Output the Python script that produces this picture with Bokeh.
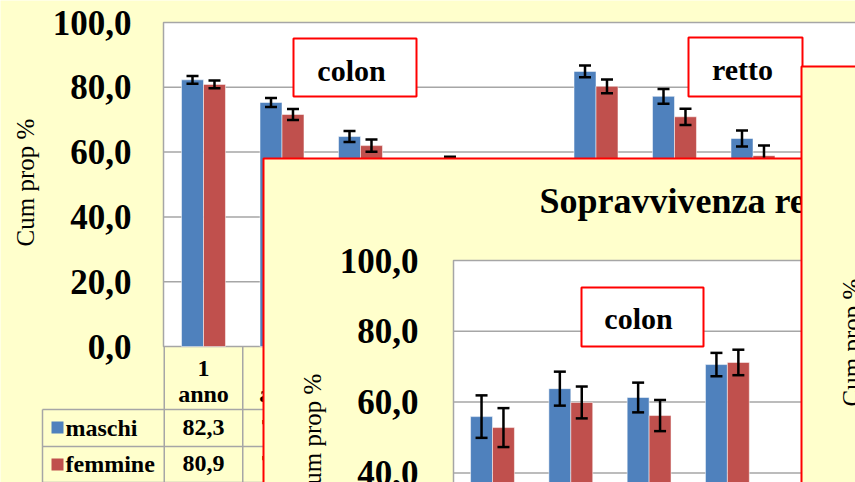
from math import pi
from bokeh.plotting import figure
from bokeh.models import Range1d
from bokeh.core.properties import value
from bokeh.embed import file_html
from bokeh.resources import INLINE

# ---------------- data ----------------
period_num = ["1", "2", "3", "5"]
period_word = ["anno", "anni", "anni", "anni"]
series_names = ["maschi", "femmine"]

# back slide: colon and retto (cumulative proportion %)
colon_maschi = [82.3, 75.3, 64.8, 55.5]
colon_femmine = [80.9, 71.6, 62.0, 56.7]
colon_maschi_err = [1.2, 1.4, 1.7, 1.9]
colon_femmine_err = [1.2, 1.7, 1.9, 1.9]
retto_maschi = [84.9, 77.2, 64.2, 56.5]
retto_femmine = [80.3, 70.9, 58.9, 52.4]
retto_maschi_err = [1.8, 2.3, 2.5, 2.7]
retto_femmine_err = [2.1, 2.5, 3.1, 3.0]

# front slide: Sopravvivenza relativa, colon
front_maschi = [55.9, 63.8, 61.3, 70.6]
front_femmine = [52.8, 59.9, 56.2, 71.2]
front_maschi_err = [6.0, 4.8, 4.2, 3.3]
front_femmine_err = [5.5, 4.5, 4.4, 3.6]

y_ticks = [0, 20, 40, 60, 80, 100]
front_title = "Sopravvivenza relativa"
y_label = "Cum prop %"

# ---------------- style ----------------
BLUE = "#4F81BD"
RED = "#C0504D"
YEL = "#FFFFCC"
GRID = "#A6A6A6"
RB = "#FF0000"
SERIF = value("Liberation Serif, Tinos, Times New Roman, DejaVu Serif, serif")

W, H = 855, 482
L, T = 0, 0
R, B = L + W, T + H

p = figure(width=W, height=H, x_range=Range1d(L, R), y_range=Range1d(B, T),
           output_backend="svg", toolbar_location=None,
           x_axis_location=None, y_axis_location=None, min_border=0,
           background_fill_color=YEL, border_fill_color=YEL,
           outline_line_color=None)
p.grid.visible = False

# back chart mapping: value 0 at px 346, 3.24 px per unit; category 0 at px 203, 78.5 px per step
BY0, BK = 346.0, 3.24
BX0, BDX = 203.0, 78.5
# front chart mapping: value 100 at px 260, 3.54 px per unit; category 0 at px 492, 78.3 px per step
FY100, FK = 260.0, 3.54
FX0, FDX = 492.0, 78.3
FRONT_LEFT, FRONT_TOP = 263, 158

p.extra_y_ranges = {
    "back": Range1d((BY0 - B) / BK, (BY0 - T) / BK),
    "front": Range1d(100 - (B - FY100) / FK, 100 - (T - FY100) / FK),
}
p.extra_x_ranges = {
    "back": Range1d((L - BX0) / BDX, (R - BX0) / BDX),
    "front": Range1d((L - FX0) / FDX, (R - FX0) / FDX),
}

def fmt(v):
    return f"{v:.1f}".replace(".", ",")

def txt(x, y, text, size, bold=True, align="center", angle=0, **kw):
    p.text(x=x, y=y, text=text, angle=angle, text_align=align,
           text_baseline="middle", text_font=SERIF,
           text_font_style="bold" if bold else "normal",
           text_font_size=size, **kw)

def bars(xs, vals, errs, color, xr, yr):
    p.vbar(x=xs, top=vals, bottom=0, width=0.28, fill_color=color,
           line_color="white", line_alpha=0.5, line_width=1,
           x_range_name=xr, y_range_name=yr)
    lo = [v - e for v, e in zip(vals, errs)]
    hi = [v + e for v, e in zip(vals, errs)]
    p.segment(x0=xs, x1=xs, y0=lo, y1=hi, line_color="black", line_width=2.5,
              x_range_name=xr, y_range_name=yr)
    p.scatter(x=xs + xs, y=lo + hi, marker="dash", size=12, line_width=2.5,
              line_color="black", x_range_name=xr, y_range_name=yr)

# ================= back slide =================
p.quad(left=163, right=R + 20, bottom=0, top=100, fill_color="white",
       line_color=GRID, line_width=1.5, y_range_name="back")
inner = [t for t in y_ticks if 0 < t < 100]
p.segment(x0=[163] * len(inner), x1=[R + 20] * len(inner), y0=inner, y1=inner,
          line_color=GRID, line_width=1.5, y_range_name="back")

colon_idx = list(range(len(colon_maschi)))
retto_idx = [i + len(colon_maschi) + 1 for i in range(len(retto_maschi))]
bars([i - 0.14 for i in colon_idx], colon_maschi, colon_maschi_err, BLUE, "back", "back")
bars([i + 0.14 for i in colon_idx], colon_femmine, colon_femmine_err, RED, "back", "back")
bars([i - 0.14 for i in retto_idx], retto_maschi, retto_maschi_err, BLUE, "back", "back")
bars([i + 0.14 for i in retto_idx], retto_femmine, retto_femmine_err, RED, "back", "back")

txt([131] * len(y_ticks), y_ticks, [fmt(t) for t in y_ticks], "35px",
    align="right", y_range_name="back")
txt([25], [182], [y_label], "25px", bold=False, angle=pi / 2)

# data table under back chart
n_cols = len(colon_maschi) + 1 + len(retto_maschi)
bounds = [i - 0.5 for i in range(n_cols + 1)]
p.segment(x0=bounds, x1=bounds, y0=[346] * len(bounds), y1=[B + 20] * len(bounds),
          line_color=GRID, line_width=1.5, x_range_name="back")
p.segment(x0=[42, 42, 42], x1=[R + 20] * 3, y0=[409, 446, 482], y1=[409, 446, 482],
          line_color=GRID, line_width=1.5)
p.segment(x0=[42], x1=[42], y0=[409], y1=[B + 20], line_color=GRID, line_width=1.5)

# only the table columns not hidden by the front slide
vis = [i for i in colon_idx if BX0 + BDX * (i - 0.5) < FRONT_LEFT]
txt(vis, [368] * len(vis), [period_num[i] for i in vis], "24px", x_range_name="back")
txt(vis, [393] * len(vis), [period_word[i] for i in vis], "24px", x_range_name="back")
txt(vis, [427] * len(vis), [fmt(colon_maschi[i]) for i in vis], "24px", x_range_name="back")
txt(vis, [463] * len(vis), [fmt(colon_femmine[i]) for i in vis], "24px", x_range_name="back")
p.quad(left=[51, 51], right=[63, 63], top=[421, 458], bottom=[433, 470],
       fill_color=[BLUE, RED], line_color=None)
txt([65, 65], [427, 463], series_names, "24px", align="left")

# labels
p.quad(left=[293, 688], right=[416, 802], top=[38, 37], bottom=[96, 96],
       fill_color="white", line_color=RB, line_width=2)
txt([351, 742], [70, 69], ["colon", "retto"], "30px")

# ================= front slide =================
p.quad(left=FRONT_LEFT, right=R + 20, top=FRONT_TOP, bottom=B + 20, fill_color=YEL,
       line_color=RB, line_width=2)
txt([539], [200], [front_title], "36px", align="left")
p.quad(left=453, right=R + 20, bottom=0, top=100, fill_color="white",
       line_color=GRID, line_width=1.5, y_range_name="front")
p.segment(x0=[453] * len(inner), x1=[R + 20] * len(inner), y0=inner, y1=inner,
          line_color=GRID, line_width=1.5, y_range_name="front")
front_idx = list(range(len(front_maschi)))
bars([i - 0.14 for i in front_idx], front_maschi, front_maschi_err, BLUE, "front", "front")
bars([i + 0.14 for i in front_idx], front_femmine, front_femmine_err, RED, "front", "front")
fticks = [t for t in y_ticks if FY100 + (100 - t) * FK < B]
txt([418] * len(fticks), fticks, [fmt(t) for t in fticks], "35px",
    align="right", y_range_name="front")
txt([312], [437], [y_label], "25px", bold=False, angle=pi / 2)
p.quad(left=581, right=703, top=287, bottom=346, fill_color="white",
       line_color=RB, line_width=2)
txt([638], [318], ["colon"], "30px")

# ================= right slide =================
p.quad(left=801, right=R + 20, top=66, bottom=B + 20, fill_color=YEL,
       line_color=RB, line_width=2)
txt([851], [342], [y_label], "25px", bold=False, angle=pi / 2)

open("out.html", "w").write(file_html(p, INLINE))
